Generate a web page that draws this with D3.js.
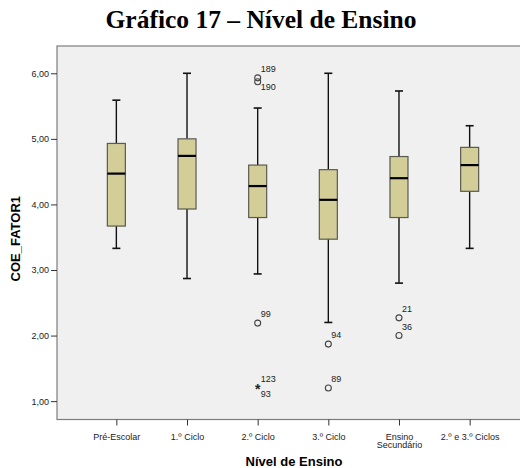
<!DOCTYPE html>
<html>
<head>
<meta charset="utf-8">
<script src="https://cdn.jsdelivr.net/npm/d3@7"></script>
<style>
  html, body { margin: 0; padding: 0; background: #fff; }
  svg { display: block; }
</style>
</head>
<body>
<svg id="chart" width="520" height="468"></svg>
<script>
// Categories on the x axis
const categories = ["Pré-Escolar", "1.º Ciclo", "2.º Ciclo", "3.º Ciclo", "Ensino Secundário", "2.º e 3.º Ciclos"];
// Box-plot statistics per category
const whiskerLow  = [3.33, 2.87, 2.94, 2.20, 2.80, 3.33];
const quartile1   = [3.67, 3.93, 3.80, 3.47, 3.80, 4.20];
const medians     = [4.47, 4.74, 4.28, 4.07, 4.40, 4.60];
const quartile3   = [4.93, 5.00, 4.60, 4.53, 4.73, 4.87];
const whiskerHigh = [5.59, 6.00, 5.47, 6.00, 5.73, 5.20];
// Outliers: category, value, case id, extreme (star) or not
const outlierCats   = ["2.º Ciclo", "2.º Ciclo", "2.º Ciclo", "2.º Ciclo", "2.º Ciclo", "3.º Ciclo", "3.º Ciclo", "Ensino Secundário", "Ensino Secundário"];
const outlierValues = [5.93, 5.87, 2.19, 1.20, 1.20, 1.87, 1.20, 2.27, 2.00];
const outlierIds    = ["189", "190", "99", "123", "93", "94", "89", "21", "36"];
const outlierStar   = [false, false, false, true, true, false, false, false, false];
// Y axis ticks
const yTicks = [1, 2, 3, 4, 5, 6];

const svg = d3.select("#chart");
const plot = { left: 57, right: 529, top: 46, bottom: 419.5 };

const x = d3.scalePoint().domain(categories).range([plot.left, plot.right]).padding(0.84);
const y = d3.scaleLinear().domain([0.72, 6.416]).range([plot.bottom, plot.top]);

const sans = "Liberation Sans, Arial, sans-serif";

// Title
svg.append("text")
  .attr("x", 261).attr("y", 28)
  .attr("text-anchor", "middle")
  .attr("font-family", "Liberation Serif, Times New Roman, serif")
  .attr("font-weight", "bold")
  .attr("font-size", 25.5)
  .text("Gráfico 17 – Nível de Ensino");

// Plot background
svg.append("rect")
  .attr("x", plot.left).attr("y", plot.top)
  .attr("width", plot.right - plot.left).attr("height", plot.bottom - plot.top)
  .attr("fill", "#f0f0f0")
  .attr("stroke", "#7d7d7d").attr("stroke-width", 1.2);

// Y axis
const yAxis = svg.append("g")
  .attr("transform", `translate(${plot.left},0)`)
  .call(d3.axisLeft(y).tickValues(yTicks).tickSize(6).tickPadding(2)
    .tickFormat(d => d3.format(".2f")(d).replace(".", ",")));
yAxis.select(".domain").remove();
yAxis.selectAll(".tick line").attr("stroke", "#333");
yAxis.selectAll(".tick text").attr("font-family", sans).attr("font-size", 9).attr("fill", "#222");

// X axis
const xAxis = svg.append("g")
  .attr("transform", `translate(0,${plot.bottom})`)
  .call(d3.axisBottom(x).tickSize(6).tickFormat(""));
xAxis.select(".domain").remove();
xAxis.selectAll(".tick line").attr("stroke", "#333");
xAxis.selectAll(".tick").each(function(d) {
  const words = d === "Ensino Secundário" ? ["Ensino", "Secundário"] : [d];
  const t = d3.select(this).append("text")
    .attr("font-family", sans).attr("font-size", 9).attr("fill", "#222")
    .attr("text-anchor", "middle");
  words.forEach((w, i) => {
    t.append("tspan").attr("x", 0).attr("y", 20 + i * 8.5).text(w);
  });
});

// Axis titles
svg.append("text")
  .attr("x", 294).attr("y", 466)
  .attr("text-anchor", "middle")
  .attr("font-family", sans).attr("font-weight", "bold").attr("font-size", 13)
  .text("Nível de Ensino");
svg.append("text")
  .attr("transform", `translate(20,${(plot.top + plot.bottom) / 2 + 6}) rotate(-90)`)
  .attr("text-anchor", "middle")
  .attr("font-family", sans).attr("font-weight", "bold").attr("font-size", 13)
  .text("COE_FATOR1");

// Boxes
const boxW = 18, capW = 8;
const boxes = categories.map((c, i) => ({
  c, lo: whiskerLow[i], q1: quartile1[i], med: medians[i], q3: quartile3[i], hi: whiskerHigh[i]
}));
const g = svg.append("g");
boxes.forEach(b => {
  const cx = x(b.c);
  // whiskers
  g.append("line").attr("x1", cx).attr("x2", cx).attr("y1", y(b.hi)).attr("y2", y(b.q3))
    .attr("stroke", "#111").attr("stroke-width", 1.4);
  g.append("line").attr("x1", cx).attr("x2", cx).attr("y1", y(b.q1)).attr("y2", y(b.lo))
    .attr("stroke", "#111").attr("stroke-width", 1.4);
  [b.hi, b.lo].forEach(v => {
    g.append("line").attr("x1", cx - capW / 2).attr("x2", cx + capW / 2).attr("y1", y(v)).attr("y2", y(v))
      .attr("stroke", "#111").attr("stroke-width", 1.6);
  });
  // box
  g.append("rect")
    .attr("x", cx - boxW / 2).attr("y", y(b.q3))
    .attr("width", boxW).attr("height", y(b.q1) - y(b.q3))
    .attr("fill", "#d3ce97").attr("stroke", "#5a5a50").attr("stroke-width", 1.2);
  // median
  g.append("line").attr("x1", cx - boxW / 2).attr("x2", cx + boxW / 2)
    .attr("y1", y(b.med)).attr("y2", y(b.med))
    .attr("stroke", "#000").attr("stroke-width", 2.2);
});

// Outliers
const outliers = outlierValues.map((v, i) => ({ c: outlierCats[i], v, id: outlierIds[i], star: outlierStar[i] }));
const drawn = new Set();
outliers.forEach((o, i) => {
  const cx = x(o.c), cy = y(o.v);
  const key = o.c + "|" + o.v;
  if (!drawn.has(key)) {
    drawn.add(key);
    if (o.star) {
      svg.append("text").attr("x", cx).attr("y", cy + 6)
        .attr("text-anchor", "middle")
        .attr("font-family", sans).attr("font-size", 14).attr("font-weight", "bold").attr("fill", "#222")
        .text("*");
    } else {
      svg.append("circle").attr("cx", cx).attr("cy", cy).attr("r", 3)
        .attr("fill", "none").attr("stroke", "#444").attr("stroke-width", 1.1);
    }
  }
  // label above, or below when a neighbour in the same category sits just above
  const prev = outliers.slice(0, i).filter(p => p.c === o.c && p.v - o.v < 0.1 && p.v >= o.v);
  const below = prev.length > 0;
  svg.append("text")
    .attr("x", cx + 3).attr("y", below ? cy + 8.5 : cy - 6)
    .attr("font-family", sans).attr("font-size", 9).attr("fill", "#222")
    .text(o.id);
});
</script>
</body>
</html>
